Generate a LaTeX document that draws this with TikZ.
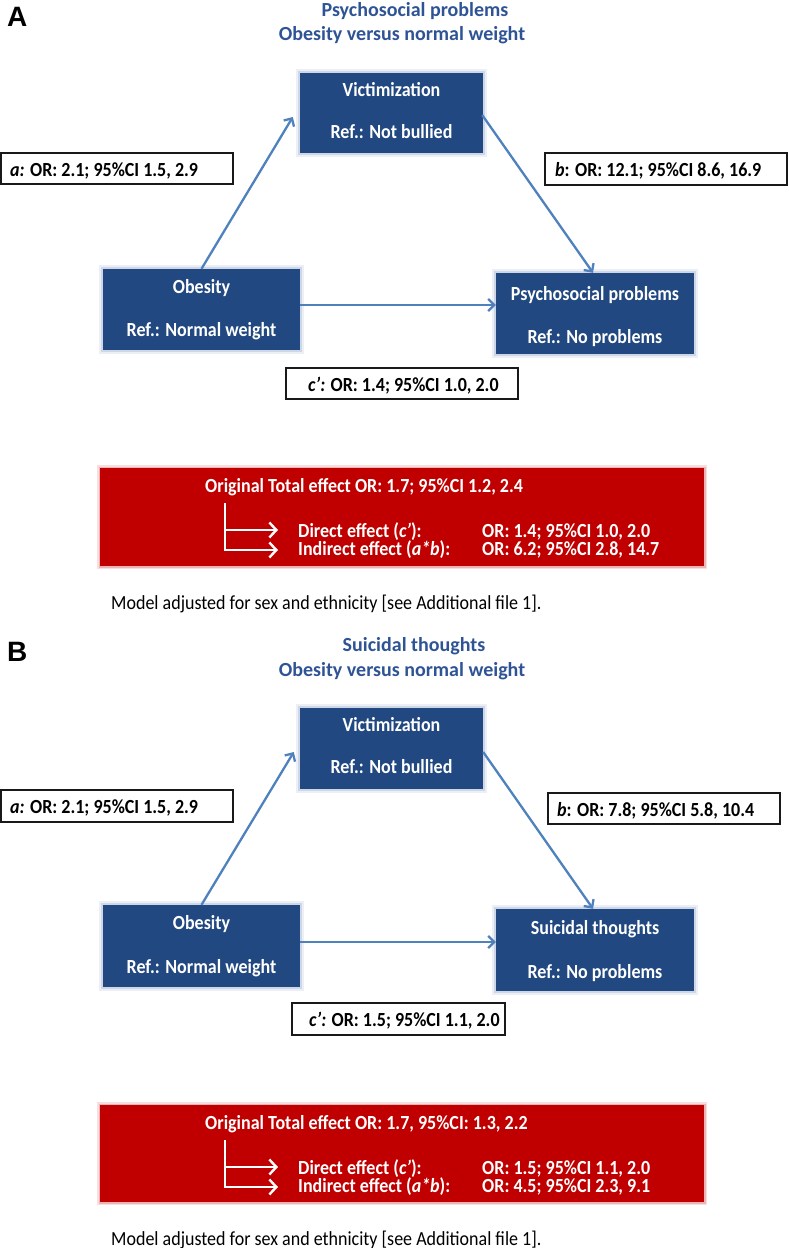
\documentclass[tikz,border=0pt]{standalone}
\usepackage{fontspec}
\setmainfont{Carlito}
\newfontfamily\narrowfont{Carlito}[FakeStretch=0.9]
\newfontfamily\panelfont{Liberation Sans}
\usetikzlibrary{arrows.meta,calc}
\definecolor{titleblue}{RGB}{47,84,150}
\definecolor{boxblue}{RGB}{33,72,128}
\definecolor{glowblue}{RGB}{180,196,222}
\definecolor{arrowblue}{RGB}{79,129,189}
\definecolor{boxred}{RGB}{192,0,0}
\definecolor{glowred}{RGB}{232,150,150}
\tikzset{
  bluebox/.style={fill=boxblue, inner sep=0pt,
    preaction={draw=glowblue, line width=8pt, opacity=0.25},
    preaction={draw=glowblue, line width=4pt, opacity=0.55}},
  redbox/.style={fill=boxred, inner sep=0pt,
    preaction={draw=glowred, line width=6pt, opacity=0.3},
    preaction={draw=glowred, line width=3pt, opacity=0.6}},
  labbox/.style={draw=black!90, line width=1.3pt, fill=white, inner sep=0pt},
  boxtext/.style={text=white, font=\narrowfont\fontsize{20}{23}\selectfont\bfseries, anchor=base, inner sep=0pt},
  labtext/.style={text=black, font=\narrowfont\fontsize{20}{23}\selectfont\bfseries, anchor=base west, inner sep=0pt},
  redtext/.style={text=white, font=\narrowfont\fontsize{20}{23}\selectfont\bfseries, anchor=base west, inner sep=0pt},
  titletext/.style={text=titleblue, font=\fontsize{20}{24}\selectfont\bfseries, anchor=base, inner sep=0pt},
  paneltext/.style={text=black, font=\panelfont\bfseries\fontsize{28}{30}\selectfont, anchor=base west, inner sep=0pt},
  notetext/.style={text=black, font=\narrowfont\fontsize{20}{23}\selectfont, anchor=base west, inner sep=0pt},
  arr/.style={draw=arrowblue, line width=2.3pt, -{Straight Barb[length=6pt, width=12pt]}},
  warr/.style={draw=white, line width=2.4pt, -{Straight Barb[length=7pt, width=15pt]}},
}
\begin{document}
\begin{tikzpicture}[x=1pt, y=-1pt]
\useasboundingbox[fill=white] (0,0) rectangle (788,1248);

% ================= Panel A =================
\node[paneltext] (letA) at (7,26) {A};
\node[titletext] (tA1) at (415,16) {Psychosocial problems};
\node[titletext] (tA2) at (402,40) {Obesity versus normal weight};

\node[bluebox, minimum width=183pt, minimum height=80pt] (vA) at (391.5,113) {};
\node[boxtext] (vA1) at (391.5,96) {Victimization};
\node[boxtext] (vA2) at (391.5,138) {Ref.: Not bullied};

\node[bluebox, minimum width=197pt, minimum height=81pt] (oA) at (201.5,309.5) {};
\node[boxtext] (oA1) at (201.5,293) {Obesity};
\node[boxtext] (oA2) at (201.5,336) {Ref.: Normal weight};

\node[bluebox, minimum width=198pt, minimum height=81pt] (pA) at (595,313.5) {};
\node[boxtext] (pA1) at (595,300) {Psychosocial problems};
\node[boxtext] (pA2) at (595,343) {Ref.: No problems};

\draw[arr] (oA.north) -- ($(vA.west)+(-7,4)$);
\draw[arr] ($(vA.east)+(-1,2)$) -- ($(pA.north)+(-2,0)$);
\coordinate (cA0) at ($(oA.east)+(0,-4.5)$);
\draw[arr] (cA0) -- (cA0 -| pA.west);

\node[labbox, minimum width=232pt, minimum height=31pt] (laA) at (117,168.5) {};
\node[labtext] (laAt) at (10,176) {\textit{a:} OR: 2.1; 95\%CI 1.5, 2.9};
\node[labbox, minimum width=242pt, minimum height=32pt] (lbA) at (666,169) {};
\node[labtext] (lbAt) at (555,176) {\textit{b}: OR: 12.1; 95\%CI 8.6, 16.9};
\node[labbox, minimum width=232pt, minimum height=31pt] (lcA) at (402,383.5) {};
\node[labtext] (lcAt) at (308,391) {\textit{c’:} OR: 1.4; 95\%CI 1.0, 2.0};

\node[redbox, minimum width=604pt, minimum height=98pt] (rA) at (402,517) {};
\node[redtext] (rA1) at (205,492) {Original Total effect OR: 1.7; 95\%CI 1.2, 2.4};
\node[redtext] (rA2) at (298,537) {Direct effect (\textit{c’}):};
\node[redtext] (rA3) at (482,537) {OR: 1.4; 95\%CI 1.0, 2.0};
\node[redtext] (rA4) at (298,555) {Indirect effect (\textit{a*b}):};
\node[redtext] (rA5) at (482,555) {OR: 6.2; 95\%CI 2.8, 14.7};
\coordinate (kA0) at (225,503);
\coordinate (kA1) at (225,530);
\coordinate (kA2) at (225,550);
\coordinate (kA3) at (278,530);
\coordinate (kA4) at (278,550);
\draw[warr] (kA0) -- (kA2) -- (kA4);
\draw[warr] (kA1) -- (kA3);

\node[notetext] (nA) at (111,609) {Model adjusted for sex and ethnicity [see Additional file 1].};

% ================= Panel B =================
\node[paneltext] (letB) at (7,661) {B};
\node[titletext] (tB1) at (414,651) {Suicidal thoughts};
\node[titletext] (tB2) at (402,676) {Obesity versus normal weight};

\node[bluebox, minimum width=183pt, minimum height=81pt] (vB) at (391.5,748.5) {};
\node[boxtext] (vB1) at (391.5,731) {Victimization};
\node[boxtext] (vB2) at (391.5,773) {Ref.: Not bullied};

\node[bluebox, minimum width=197pt, minimum height=82pt] (oB) at (201.5,946) {};
\node[boxtext] (oB1) at (201.5,929) {Obesity};
\node[boxtext] (oB2) at (201.5,973) {Ref.: Normal weight};

\node[bluebox, minimum width=198pt, minimum height=82pt] (sB) at (595,950) {};
\node[boxtext] (sB1) at (595,934) {Suicidal thoughts};
\node[boxtext] (sB2) at (595,978) {Ref.: No problems};

\draw[arr] (oB.north) -- ($(vB.west)+(-6,3.5)$);
\draw[arr] ($(vB.east)+(0,3.5)$) -- ($(sB.north)+(-2,0)$);
\coordinate (cB0) at ($(oB.east)+(0,-4)$);
\draw[arr] (cB0) -- (cB0 -| sB.west);

\node[labbox, minimum width=232pt, minimum height=32pt] (laB) at (117,806) {};
\node[labtext] (laBt) at (10,813) {\textit{a:} OR: 2.1; 95\%CI 1.5, 2.9};
\node[labbox, minimum width=232pt, minimum height=31pt] (lbB) at (664,808.5) {};
\node[labtext] (lbBt) at (557,816) {\textit{b}: OR: 7.8; 95\%CI 5.8, 10.4};
\node[labbox, minimum width=213pt, minimum height=32pt] (lcB) at (398.5,1019) {};
\node[labtext] (lcBt) at (309,1026) {\textit{c’:} OR: 1.5; 95\%CI 1.1, 2.0};

\node[redbox, minimum width=604pt, minimum height=97pt] (rB) at (402,1153.5) {};
\node[redtext] (rB1) at (205,1129) {Original Total effect OR: 1.7, 95\%CI: 1.3, 2.2};
\node[redtext] (rB2) at (298,1174) {Direct effect (\textit{c’}):};
\node[redtext] (rB3) at (482,1174) {OR: 1.5; 95\%CI 1.1, 2.0};
\node[redtext] (rB4) at (298,1192) {Indirect effect (\textit{a*b}):};
\node[redtext] (rB5) at (482,1192) {OR: 4.5; 95\%CI 2.3, 9.1};
\coordinate (kB0) at (225,1140);
\coordinate (kB1) at (225,1167);
\coordinate (kB2) at (225,1187);
\coordinate (kB3) at (278,1167);
\coordinate (kB4) at (278,1187);
\draw[warr] (kB0) -- (kB2) -- (kB4);
\draw[warr] (kB1) -- (kB3);

\node[notetext] (nB) at (111,1245) {Model adjusted for sex and ethnicity [see Additional file 1].};
\end{tikzpicture}
\end{document}
